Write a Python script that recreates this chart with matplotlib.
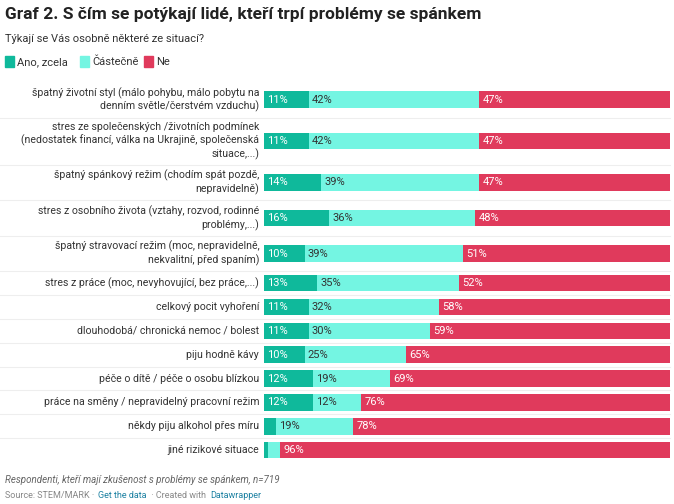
import matplotlib
matplotlib.use("Agg")
import matplotlib.pyplot as plt
import numpy as np

plt.rcParams['font.family'] = ['Roboto', 'DejaVu Sans']

categories = [
    "špatný životní styl (málo pohybu, málo pobytu na\ndenním světle/čerstvém vzduchu)",
    "stres ze společenských /životních podmínek\n(nedostatek financí, válka na Ukrajině, společenská\nsituace,...)",
    "špatný spánkový režim (chodím spát pozdě,\nnepravidelně)",
    "stres z osobního života (vztahy, rozvod, rodinné\nproblémy,...)",
    "špatný stravovací režim (moc, nepravidelně,\nnekvalitní, před spaním)",
    "stres z práce (moc, nevyhovující, bez práce,...)",
    "celkový pocit vyhoření",
    "dlouhodobá/ chronická nemoc / bolest",
    "piju hodně kávy",
    "péče o dítě / péče o osobu blízkou",
    "práce na směny / nepravidelný pracovní režim",
    "někdy piju alkohol přes míru",
    "jiné rizikové situace",
]
ano = [11, 11, 14, 16, 10, 13, 11, 11, 10, 12, 12, 3, 1]
castecne = [42, 42, 39, 36, 39, 35, 32, 30, 25, 19, 12, 19, 3]
ne = [47, 47, 47, 48, 51, 52, 58, 59, 65, 69, 76, 78, 96]
series = [("Ano, zcela", ano, "#0fb99b"), ("Částečně", castecne, "#74f5e2"), ("Ne", ne, "#e03a5c")]

W, H = 674, 504
fig = plt.figure(figsize=(W/100, H/100), dpi=100)
ax = fig.add_axes([264/W, 1-462/H, 406/W, (462-82)/H])

heights = [12.5 + 12*c.count("\n") + 12 for c in categories]
ys = []
acc = 0
for h in heights:
    ys.append(acc + h/2)
    acc += h
ys = np.array(ys)
ax.set_ylim(acc, 0)
ax.set_xlim(0, 100)
ax.axis("off")

left = np.zeros(len(categories))
for name, vals, col in series:
    vals = np.array(vals, float)
    ax.barh(ys, vals, left=left, height=17, color=col, edgecolor='none')
    for y, l, v in zip(ys, left, vals):
        if v >= 8:
            ax.text(l + 0.8, y, f"{int(v)}%", va='center', ha='left', fontsize=8,
                    color='white' if col != "#74f5e2" else '#333333')
    left += vals

for y, c in zip(ys, categories):
    ax.text(-1.2, y, c, ha='right', va='center', fontsize=7.6, color='#333333', linespacing=1.25)
for i in range(len(ys)-1):
    yy = (ys[i] + heights[i]/2)
    ax.axhline(yy, xmin=-0.65, xmax=1, color='#eeeeee', lw=0.8, clip_on=False)

fig.text(5/W, 1-15/H, "Graf 2. S čím se potýkají lidé, kteří trpí problémy se spánkem",
         fontsize=12.5, fontweight='bold', color='#222222', va='center')
fig.text(5/W, 1-39/H, "Týkají se Vás osobně některé ze situací?", fontsize=8, color='#333333', va='center')
x = 5
for name, _, col in series:
    fig.patches.append(plt.Rectangle((x/W, 1-67/H), 9/W, 11/H, color=col, transform=fig.transFigure))
    fig.text((x+12)/W, 1-62/H, name, fontsize=8, color='#333333', va='center')
    x += 12 + len(name)*5.3 + 10
fig.text(5/W, 1-480/H, "Respondenti, kteří mají zkušenost s problémy se spánkem, n=719",
         fontsize=7, style='italic', color='#666666', va='center')

fig.canvas.draw()
r = fig.canvas.get_renderer()
x = 5
for txt, col in [("Source: STEM/MARK · ", '#888888'), ("Get the data", '#1d81a2'),
                 (" · Created with ", '#888888'), ("Datawrapper", '#1d81a2')]:
    t = fig.text(x/W, 1-495/H, txt, fontsize=6.5, color=col, va='center')
    x += t.get_window_extent(r).width + 2
fig.savefig("out.png", dpi=100, facecolor='white')
